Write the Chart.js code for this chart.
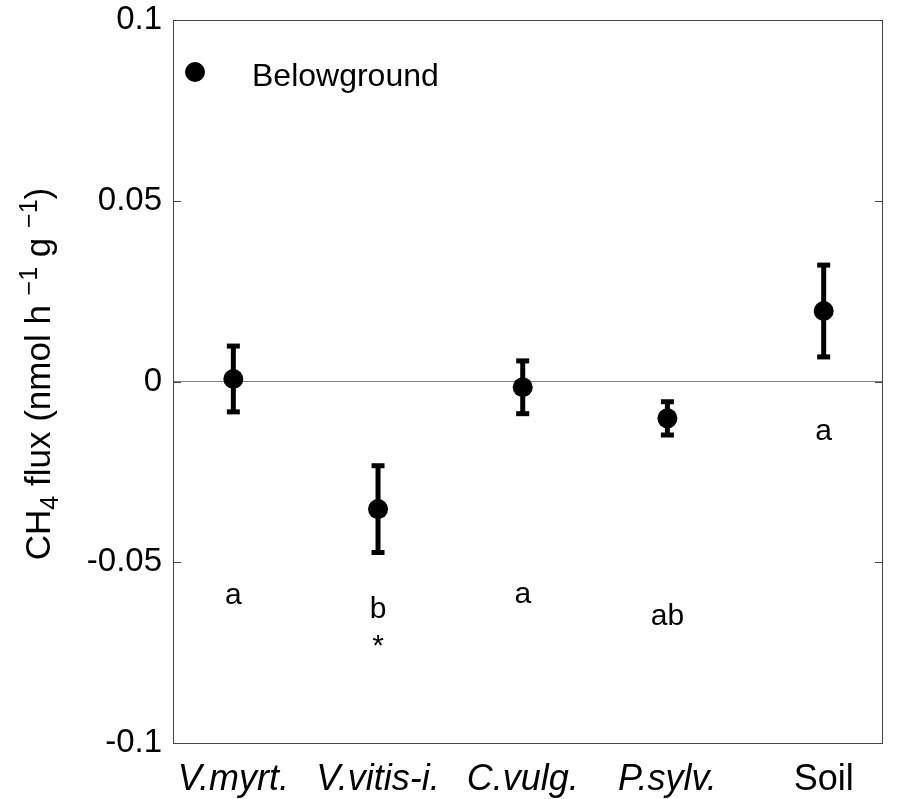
<!DOCTYPE html>
<html>
<head>
<meta charset="utf-8">
<script src="https://cdn.jsdelivr.net/npm/chart.js@4.4.1/dist/chart.umd.min.js"></script>
<style>
  body { margin: 0; background: #fff; }
  canvas { display: block; }
</style>
</head>
<body>
<canvas id="fluxChart" width="897" height="799"></canvas>
<script>
// Belowground CH4 flux per species (mean +/- error)
const categories = ['V.myrt.', 'V.vitis-i.', 'C.vulg.', 'P.sylv.', 'Soil'];
const xPos = [1, 2, 3, 4, 5.08];
const means = [0.0007, -0.0353, -0.0016, -0.0102, 0.0195];
const errors = [0.0091, 0.012, 0.0073, 0.0046, 0.0127];
const letters = ['a', 'b', 'a', 'ab', 'a'];
const letterY = [-0.0615, -0.0655, -0.0614, -0.0674, -0.0162];
const stars = ['', '*', '', '', ''];
const starY = -0.0756;
const yTicks = [-0.1, -0.05, 0, 0.05, 0.1];

const FONT = '"Liberation Sans", Arial, sans-serif';

// error bar stems, broken with null points between species
const stemData = [];
xPos.forEach((x, i) => {
    stemData.push({ x: x, y: means[i] - errors[i] });
    stemData.push({ x: x, y: means[i] + errors[i] });
    stemData.push({ x: x, y: null });
});
const capData = [];
xPos.forEach((x, i) => {
    capData.push({ x: x, y: means[i] - errors[i] });
    capData.push({ x: x, y: means[i] + errors[i] });
});

// legend, letters, box, inward ticks and y title
const extras = {
    id: 'extras',
    afterDraw(chart) {
        const ctx = chart.ctx;
        const area = chart.chartArea;
        const xs = chart.scales.x;
        const ys = chart.scales.y;
        ctx.save();

        // box
        ctx.strokeStyle = '#444';
        ctx.lineWidth = 1;
        ctx.strokeRect(area.left + 0.5, area.top + 0.5, area.right - area.left - 1, area.bottom - area.top);

        // inward ticks on both sides
        yTicks.forEach(v => {
            const py = Math.round(ys.getPixelForValue(v)) + 0.5;
            ctx.beginPath();
            ctx.moveTo(area.left, py);
            ctx.lineTo(area.left + 8, py);
            ctx.moveTo(area.right - 8, py);
            ctx.lineTo(area.right, py);
            ctx.stroke();
        });

        // significance letters
        ctx.fillStyle = '#000';
        ctx.textAlign = 'center';
        ctx.textBaseline = 'alphabetic';
        ctx.font = '30px ' + FONT;
        letters.forEach((t, i) => {
            ctx.fillText(t, xs.getPixelForValue(xPos[i]), ys.getPixelForValue(letterY[i]));
        });
        stars.forEach((t, i) => {
            if (t) ctx.fillText(t, xs.getPixelForValue(xPos[i]), ys.getPixelForValue(starY));
        });

        // legend
        ctx.beginPath();
        ctx.arc(area.left + 22, area.top + 52, 10, 0, Math.PI * 2);
        ctx.fill();
        ctx.textAlign = 'left';
        ctx.font = '32px ' + FONT;
        ctx.fillText('Belowground', area.left + 79, area.top + 66);

        // y axis title with sub/superscripts
        const big = '35px ' + FONT;
        const small = '25px ' + FONT;
        const parts = [
            { t: 'CH', f: big, dy: 0 },
            { t: '4', f: small, dy: 8 },
            { t: ' flux (nmol h ', f: big, dy: 0 },
            { t: '\u22121', f: small, dy: -13 },
            { t: ' g ', f: big, dy: 0 },
            { t: '\u22121', f: small, dy: -13 },
            { t: ')', f: big, dy: 0 }
        ];
        let total = 0;
        parts.forEach(p => { ctx.font = p.f; p.w = ctx.measureText(p.t).width; total += p.w; });
        ctx.translate(50, 374);
        ctx.rotate(-Math.PI / 2);
        let cx = -total / 2;
        parts.forEach(p => {
            ctx.font = p.f;
            ctx.fillText(p.t, cx, p.dy);
            cx += p.w;
        });
        ctx.restore();
    }
};

const ctx = document.getElementById('fluxChart').getContext('2d');
const fluxChart = new Chart(ctx, {
    type: 'scatter',
    data: {
        datasets: [
            {
                label: 'Belowground',
                data: xPos.map((x, i) => ({ x: x, y: means[i] })),
                pointRadius: 10,
                pointBackgroundColor: '#000',
                pointBorderWidth: 0
            },
            {
                label: 'stems',
                data: stemData,
                showLine: true,
                spanGaps: false,
                borderColor: '#000',
                borderWidth: 5,
                pointRadius: 0
            },
            {
                label: 'caps',
                data: capData,
                pointStyle: 'line',
                pointRadius: 6.5,
                pointBorderWidth: 5,
                pointBorderColor: '#000'
            }
        ]
    },
    options: {
        responsive: false,
        animation: false,
        layout: { padding: { left: 0, top: 20, right: 14, bottom: 0 } },
        plugins: {
            legend: { display: false },
            tooltip: { enabled: false }
        },
        scales: {
            x: {
                type: 'linear',
                min: 0.583,
                max: 5.49,
                afterBuildTicks: scale => { scale.ticks = xPos.map(v => ({ value: v })); },
                afterFit: scale => { scale.height = 56; scale.paddingLeft = 0; scale.paddingRight = 0; },
                grid: { display: false },
                border: { display: false },
                ticks: {
                    autoSkip: false,
                    maxRotation: 0,
                    padding: 7,
                    color: '#000',
                    font: c => ({ family: FONT, size: 36, style: c.index < 4 ? 'italic' : 'normal' }),
                    callback: (v, i) => categories[i]
                }
            },
            y: {
                min: -0.1,
                max: 0.1,
                afterBuildTicks: scale => { scale.ticks = yTicks.map(v => ({ value: v })); },
                afterFit: scale => { scale.width = 173; scale.paddingTop = 0; scale.paddingBottom = 0; },
                grid: {
                    drawTicks: false,
                    color: c => (c.tick && c.tick.value === 0 ? '#808080' : 'rgba(0,0,0,0)'),
                    lineWidth: 1
                },
                border: { display: false },
                ticks: {
                    padding: 11,
                    color: '#000',
                    font: { family: FONT, size: 33 },
                    callback: v => String(Number(v.toFixed(2)))
                }
            }
        }
    },
    plugins: [extras]
});
</script>
</body>
</html>
